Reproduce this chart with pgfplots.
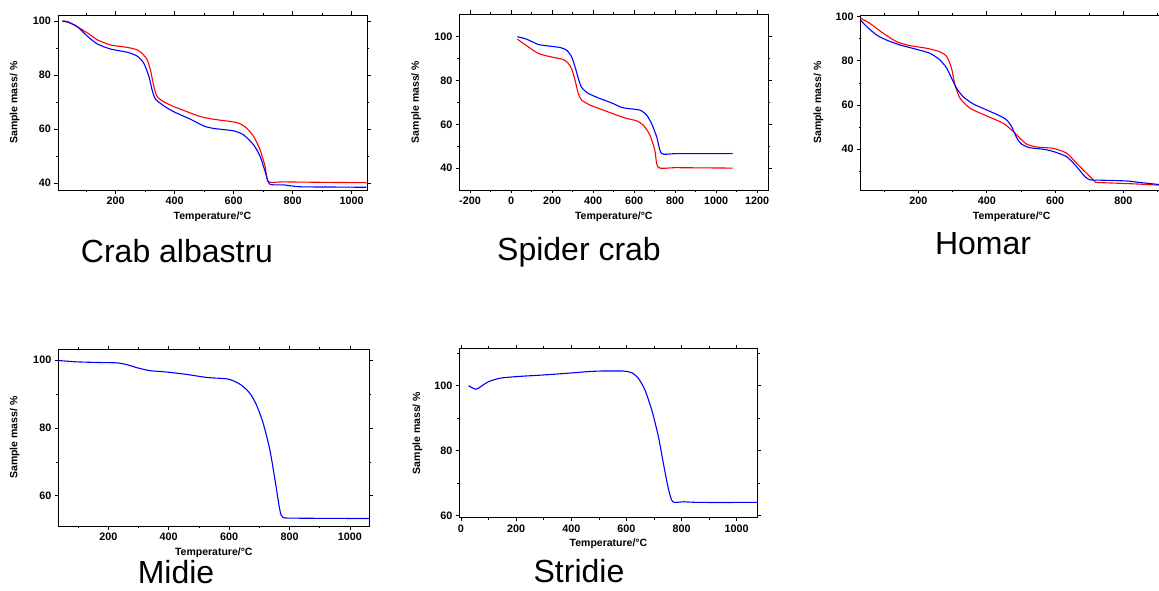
\documentclass[border=0pt]{standalone}
\usepackage{fontspec}
\setmainfont{Liberation Sans}
\usepackage{pgfplots}
\pgfplotsset{compat=1.18}
\pgfplotsset{
 tga/.style={
  scale only axis,
  anchor=north west,
  tick align=outside,
  major tick length=3.5pt,
  minor tick length=2pt,
  every tick/.style={black, line width=0.7pt},
  axis line style={line width=0.9pt},
  tick label style={font=\fontsize{10.8}{13}\selectfont\bfseries},
  /pgf/number format/assume math mode=true,
  /pgf/number format/1000 sep={},
  xlabel={Temperature/°C},
  ylabel={Sample mass/ \%},
  label style={font=\fontsize{10.5}{12}\selectfont\bfseries},
  xlabel style={at={(axis description cs:0.5,0)}, anchor=center, yshift=-26.5pt},
  ylabel style={at={(axis description cs:-0.14,0.5)}, anchor=center},
  every axis plot/.append style={line width=1.1pt, smooth, tension=0.4},
 }
}
\begin{document}
\begin{tikzpicture}
\useasboundingbox (0,0) rectangle (1159pt,590pt);
% Crab albastru
\begin{axis}[tga, at={(58pt,575pt)}, width=309pt, height=175pt,
  xmin=5, xmax=1052, ymin=37.4, ymax=102.2,
  xtick={200,400,...,1000}, minor xtick={100,300,...,1100},
  ytick={40,60,80,100}, minor ytick={50,70,90}]
\addplot[red] coordinates {(20,100)(37,99.8)(70,97.9)(115,94.8)(138,93)(183,91.1)(240,90.2)(273,89.3)(290,88)(307,85.6)(318,81.9)(330,75.7)(341,72)(363,70.1)(397,68.3)(442,66.4)(487,64.6)(532,63.6)(600,62.6)(623,61.9)(645,60.2)(668,57.2)(690,52.2)(707,46)(718,40.5)(769,40.4)(938,40.2)(1050,40.1)};
\addplot[blue] coordinates {(20,99.8)(37,99.6)(70,97.9)(104,94.4)(138,91.5)(183,89.6)(240,88.4)(273,87)(296,84.3)(313,79.4)(324,74.4)(335,71.1)(363,68.6)(397,66.4)(454,63.6)(499,61.1)(532,60.2)(600,59.3)(634,57.8)(668,54.1)(690,49.8)(707,44.2)(722,39.6)(769,39.3)(825,38.6)(938,38.5)(1050,38.4)};
\end{axis}
% Spider crab
\begin{axis}[tga, at={(459.3pt,576pt)}, width=309pt, height=176pt,
  xmin=-252, xmax=1254, ymin=30, ymax=110.4,
  xtick={-200,0,...,1200}, minor xtick={-100,100,...,1100},
  ytick={40,60,80,100}, minor ytick={50,70,90}]
\addplot[blue] coordinates {(31,100)(76,98.9)(133,96.5)(190,95.7)(239,95.1)(271,93.9)(295,90.9)(312,86.3)(328,81)(344,76.9)(377,74.1)(433,71.8)(498,69.5)(531,68)(563,67.3)(628,66.5)(661,64.2)(685,60.4)(710,54.3)(734,46.7)(807,46.6)(1080,46.6)};
\addplot[red] coordinates {(31,98.9)(84,95.4)(133,92.4)(190,90.9)(255,89.6)(279,87.8)(295,85.5)(312,80.2)(328,74.1)(344,71.1)(385,68.8)(450,66.5)(515,64.2)(563,62.7)(612,61.6)(645,59.6)(677,55.1)(701,48.2)(718,40.3)(807,40.2)(1080,40)};
\end{axis}
% Homar
\begin{axis}[tga, at={(860.7pt,575pt)}, width=302pt, height=175pt,
  xmin=31, xmax=915, ymin=21.4, ymax=100.8,
  xtick={200,400,...,800}, minor xtick={100,300,...,900},
  ytick={40,60,80,100}, minor ytick={30,50,70,90}]
\addplot[red] coordinates {(31,99.3)(58,97)(97,92.5)(136,88.7)(175,86.9)(224,85.7)(263,84.1)(283,81.9)(297,76.6)(307,69)(322,63)(351,58.5)(400,55)(448,51.7)(478,47.9)(497,44.9)(517,42.2)(546,40.9)(594,40.3)(634,38.1)(663,33.5)(692,29)(717,25.2)(727,24.8)(829,24.2)(904,23.6)};
\addplot[blue] coordinates {(31,98.5)(48.6,95.5)(78,91.7)(107,89.4)(146,87.2)(195,85.2)(234,83.4)(263,80.4)(283,76.6)(297,72.1)(312,67.5)(331,63.7)(361,60.4)(400,57.7)(439,55)(458,53.2)(473,50.1)(488,44.9)(502,42.2)(526,40.6)(565,39.9)(594,38.9)(634,36.5)(663,32)(687,27.5)(702,26)(721,25.9)(809,25.5)(848,24.8)(904,23.9)};
\end{axis}
% Midie
\begin{axis}[tga, at={(58.3pt,240.7pt)}, width=311pt, height=176.7pt,
  xmin=34.5, xmax=1064, ymin=51.1, ymax=103.2,
  xtick={200,400,...,1000}, minor xtick={100,300,...,1100},
  ytick={60,80,100}, minor ytick={70,90}]
\addplot[blue] coordinates {(34,99.9)(95,99.5)(172,99.3)(228,99.2)(261,98.7)(294,97.8)(338,96.9)(393,96.5)(459,95.8)(526,94.9)(592,94.5)(614,93.9)(641,92.6)(669,90.2)(691,86.7)(713,81.3)(735,73.5)(752,64.6)(768,55.8)(779,53.6)(834,53.4)(1064,53.3)};
\end{axis}
% Stridie
\begin{axis}[tga, at={(459.3pt,241.7pt)}, width=298.4pt, height=169.4pt,
  xmin=-6, xmax=1076, ymin=59.4, ymax=111.5,
  xtick={0,200,...,1000}, minor xtick={100,300,...,1100},
  ytick={60,80,100}, minor ytick={70,90,110}]
\addplot[blue] coordinates {(27,100)(54,98.9)(75,99.9)(99,101.2)(141,102.3)(202,102.8)(299,103.3)(383,103.8)(456,104.3)(504,104.5)(589,104.5)(619,104)(643,102.3)(667,98.7)(692,92.5)(716,84.3)(734,76.1)(752,68.4)(768,64.3)(807,64.3)(867,64.1)(1076,64.1)};
\end{axis}
\tikzset{ttl/.style={font=\fontsize{32}{38}\selectfont, anchor=base, inner sep=0pt}}
\node[ttl] at (177pt,327pt) {Crab albastru};
\node[ttl] at (579pt,330pt) {Spider crab};
\node[ttl] at (983pt,335pt) {Homar};
\node[ttl] at (176pt,7pt) {Midie};
\node[ttl] at (579pt,8pt) {Stridie};
\end{tikzpicture}
\end{document}
